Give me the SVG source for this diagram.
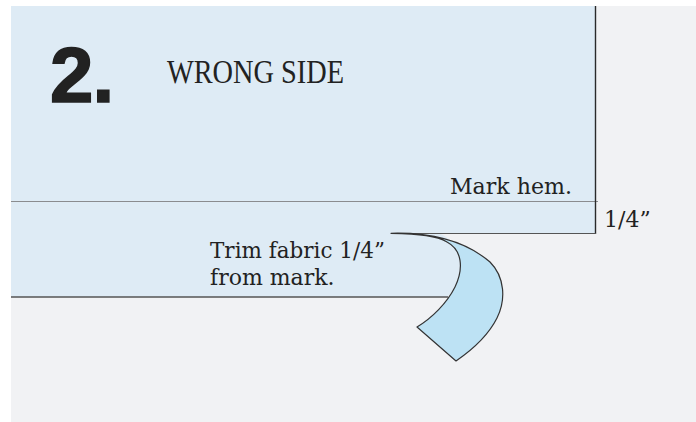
<svg xmlns="http://www.w3.org/2000/svg" width="696" height="422" viewBox="0 0 696 422">
  <style>
    .lbl { font-family: "DejaVu Serif", "Liberation Serif", serif; fill: #222; }
  </style>
  <rect x="0" y="0" width="696" height="422" fill="#ffffff"/>
  <g id="table">
    <rect x="11" y="6" width="685" height="416" fill="#f1f2f4"/>
  </g>
  <g id="fabric">
    <path d="M11 6 H596 V233.5 H440 C455 240 462 255 461 268 C460 280 455 290 447 297 H11 Z" fill="#deebf5"/>
    <line x1="11" y1="201.5" x2="598" y2="201.5" stroke="#8a8c8f" stroke-width="1"/>
    <line x1="595.5" y1="6" x2="595.5" y2="234" stroke="#2a2a2a" stroke-width="1.4"/>
    <line x1="391" y1="233.5" x2="596" y2="233.5" stroke="#555" stroke-width="1"/>
    <line x1="11" y1="297" x2="448" y2="297" stroke="#555" stroke-width="1.6"/>
  </g>
  <g id="curl">
    <path d="M391 233.3 C440 232 470 245 490 262 C505 277 506 300 497 318 C488 336 472 350 456 361 L417 327 C432 318 447 303 455 287 C464 268 462 250 447 242 C437 236 420 234 391 233.3 Z" fill="#bde2f4" stroke="#333" stroke-width="1.2" stroke-linejoin="round"/>
  </g>
  <g id="labels">
    <text x="50" y="101.7" font-family="Liberation Sans, Arial, sans-serif" font-weight="bold" font-size="78" fill="#222" stroke="#222" stroke-width="1.6" letter-spacing="-1">2.</text>
    <text x="167" y="83.3" font-family="Liberation Serif, serif" font-size="33" fill="#222" textLength="177" lengthAdjust="spacingAndGlyphs">WRONG SIDE</text>
    <text class="lbl" x="450" y="194" font-size="22" textLength="122" lengthAdjust="spacingAndGlyphs">Mark hem.</text>
    <text class="lbl" x="604" y="226.7" font-size="22">1/4”</text>
    <text class="lbl" x="210" y="258.3" font-size="22" textLength="175" lengthAdjust="spacingAndGlyphs">Trim fabric 1/4”</text>
    <text class="lbl" x="210" y="285" font-size="22">from mark.</text>
  </g>
</svg>
